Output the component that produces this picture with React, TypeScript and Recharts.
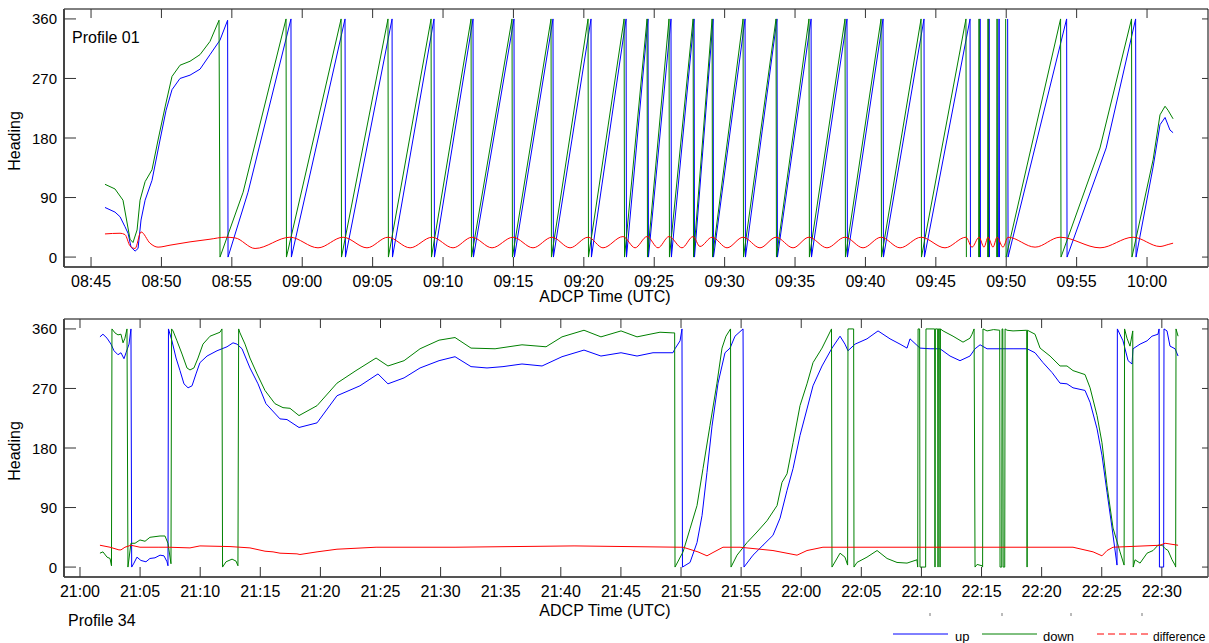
import { Line, LineChart, ReferenceArea, XAxis, YAxis } from "recharts";

type Pt = [number, number | null];

// Profile 01: time in minutes after 08:00, heading in degrees
const p01Up: Pt[] = [
  [45.99, 75], [46.7, 68], [47.06, 61], [47.41, 46], [47.63, 36], [47.84, 15], [48.13, 9], [48.34, 13],
  [48.55, 56], [48.84, 86], [49.33, 116], [49.9, 177], [50.33, 222], [50.75, 253], [51.32, 270], [52.03, 275],
  [52.74, 284], [53.45, 306], [54.16, 328], [54.7, 358], [54.73, 0], [56.15, 98], [59.2, 360], [59.23, 0],
  [63.04, 360], [63.07, 0], [66.38, 360], [66.41, 0], [69.36, 360], [69.39, 0], [72.13, 360], [72.16, 0],
  [75.04, 360], [75.07, 0], [77.81, 360], [77.84, 0], [80.51, 360], [80.54, 0], [83.0, 360], [83.03, 0],
  [84.56, 360], [84.59, 0], [86.19, 360], [86.22, 0], [87.83, 360], [87.86, 0], [89.18, 360], [89.21, 0],
  [91.45, 360], [91.48, 0], [93.72, 360], [93.75, 0], [96.14, 360], [96.17, 0], [98.69, 360], [98.72, 0],
  [101.25, 360], [101.28, 0], [104.16, 360], [104.19, 0], [107.43, 360], [107.46, 0], [107.8, null],
  [108.11, 0], [108.14, 360], [108.17, 0], [108.45, null], [108.75, 0], [108.78, 360], [108.81, 0],
  [109.1, null], [109.46, 0], [109.49, 360], [109.52, 0], [109.8, null], [110.1, 360], [110.13, 0],
  [114.29, 360], [114.32, 0], [117.1, 165], [119.19, 360], [119.22, 0], [120.43, 136],
  [120.92, 200], [121.28, 211], [121.63, 192], [121.85, 188],
];

const p01Down: Pt[] = [
  [45.99, 110], [46.7, 103], [47.27, 86], [47.77, 27], [47.98, 22], [48.27, 41], [48.48, 86], [48.84, 114],
  [49.33, 132], [49.76, 177], [50.26, 227], [50.75, 273], [51.32, 290], [52.03, 296], [52.74, 306],
  [53.45, 326], [54.09, 358], [54.16, 0], [55.8, 98], [58.85, 360], [58.88, 0], [62.76, 360], [62.79, 0],
  [66.09, 360], [66.12, 0], [69.15, 360], [69.18, 0], [71.99, 360], [72.02, 0], [74.9, 360], [74.93, 0],
  [77.67, 360], [77.7, 0], [80.3, 360], [80.33, 0], [82.86, 360], [82.89, 0], [84.49, 360], [84.52, 0],
  [86.05, 360], [86.08, 0], [87.76, 360], [87.79, 0], [89.11, 360], [89.14, 0], [91.31, 360], [91.34, 0],
  [93.65, 360], [93.68, 0], [95.99, 360], [96.02, 0], [98.55, 360], [98.58, 0], [101.11, 360], [101.14, 0],
  [103.95, 360], [103.98, 0], [107.14, 360], [107.17, 0], [107.6, null], [108.04, 0], [108.07, 360],
  [108.1, 0], [108.4, null], [108.68, 0], [108.71, 360], [108.74, 0], [109.0, null], [109.32, 0],
  [109.35, 360], [109.38, 0], [109.7, null], [109.96, 360], [109.99, 0], [113.86, 360], [113.89, 0],
  [116.66, 165], [118.9, 360], [118.93, 0], [120.43, 147], [120.92, 215], [121.28, 228],
  [121.49, 222], [121.85, 209],
];

const p01Diff: Pt[] = [
  [45.99, 35], [47.06, 36], [47.41, 34], [47.77, 17], [48.13, 13], [48.55, 38], [49.19, 21], [49.76, 15],
  [50.61, 18], [52.03, 23], [53.45, 27], [54.52, 30], [55.23, 29], [56.65, 13], [59.13, 30], [61.12, 14],
  [62.9, 30], [64.6, 14], [66.09, 30], [67.66, 14], [69.22, 30], [70.71, 14], [72.06, 30], [73.48, 14],
  [74.97, 30], [76.39, 14], [77.74, 30], [79.02, 14], [80.3, 30], [81.36, 14], [82.78, 31], [83.64, 14],
  [84.49, 31], [85.27, 14], [86.05, 31], [86.97, 14], [87.76, 31], [88.25, 16], [89.11, 30], [90.17, 14],
  [91.31, 30], [92.51, 14], [93.65, 30], [94.86, 14], [95.99, 30], [97.27, 14], [98.55, 30], [99.83, 14],
  [101.11, 30], [102.46, 14], [103.95, 30], [105.65, 14], [107.14, 30], [107.57, 15], [108.07, 30],
  [108.42, 15], [108.71, 30], [109.06, 15], [109.35, 30], [109.77, 15], [110.13, 30], [112.05, 15],
  [113.82, 30], [116.66, 14], [119.01, 30], [120.92, 16], [121.5, 19], [121.85, 21],
];

// Profile 34: time in minutes after 21:00
const p34Up: Pt[] = [
  [1.66, 348], [1.91, 352], [2.25, 346], [2.58, 337], [2.83, 327], [3.16, 321], [3.41, 324], [3.66, 315],
  [3.83, 324], [4.08, 337], [4.24, 360], [4.3, 0], [4.49, 6], [4.74, 15], [5.07, 10], [5.49, 8], [5.82, 13],
  [6.24, 14], [6.66, 18], [6.99, 17], [7.24, 8], [7.32, 2], [7.36, 360], [7.65, 342], [7.99, 316],
  [8.32, 297], [8.65, 277], [8.99, 271], [9.32, 274], [9.65, 292], [9.98, 309], [10.57, 319], [11.4, 327],
  [12.23, 333], [12.73, 339], [13.06, 337], [13.48, 330], [14.14, 301], [14.81, 277], [15.47, 247],
  [16.64, 224], [17.22, 223], [18.22, 211], [19.72, 218], [21.38, 259], [23.29, 274], [24.79, 292],
  [25.62, 277], [26.96, 286], [28.29, 301], [29.87, 312], [31.2, 318], [32.53, 303], [33.86, 301],
  [35.19, 303], [36.77, 307], [38.44, 304], [40.1, 318], [41.93, 328], [43.34, 319], [45.01, 324],
  [46.34, 319], [47.67, 324], [49.33, 324], [49.5, 330], [49.92, 342], [50.08, 360], [50.12, 0],
  [50.75, 7], [51.33, 37], [51.75, 78], [52.16, 143], [52.58, 213], [53.08, 278], [53.66, 324],
  [54.08, 331], [54.49, 349], [55.16, 360], [55.24, 0], [55.99, 18], [56.82, 33], [57.65, 48], [58.24, 74],
  [58.82, 116], [59.32, 149], [59.9, 199], [60.48, 239], [60.98, 274], [61.73, 304], [62.56, 331],
  [63.23, 349], [63.64, 337], [63.89, 327], [64.48, 337], [65.47, 345], [66.39, 357], [67.39, 345],
  [68.22, 337], [68.8, 331], [69.05, 345], [69.88, 331], [70.72, 330], [71.55, 330], [72.38, 319],
  [73.21, 312], [74.04, 319], [74.46, 330], [74.88, 336], [75.46, 330], [76.54, 330], [77.62, 330],
  [78.79, 330], [79.45, 324], [80.12, 309], [80.87, 294], [81.53, 278], [82.11, 277], [82.61, 271],
  [83.61, 267], [84.03, 249], [84.61, 209], [85.02, 169], [85.44, 113], [85.86, 59], [86.27, 3],
  [86.3, 360], [86.77, 342], [87.19, 312], [87.52, 307], [87.6, 330], [88.19, 337], [88.77, 342],
  [89.18, 349], [89.68, 352], [89.77, 360], [89.8, 0], [90.15, 0], [90.18, 360], [90.43, 357], [90.68, 334],
  [91.1, 330], [91.35, 319],
];

const p34Down: Pt[] = [
  [1.66, 21], [1.91, 23], [2.25, 15], [2.5, 13], [2.62, 2], [2.66, 360], [2.91, 354], [3.16, 351],
  [3.41, 352], [3.58, 339], [3.74, 346], [3.91, 360], [3.99, 0], [4.24, 36], [4.58, 36], [4.99, 41],
  [5.41, 39], [5.82, 45], [6.66, 47], [7.07, 47], [7.32, 36], [7.57, 5], [7.62, 360], [7.74, 357],
  [8.07, 342], [8.49, 322], [8.9, 301], [9.15, 298], [9.48, 301], [9.82, 316], [10.23, 337], [10.82, 349],
  [11.65, 355], [11.81, 360], [11.86, 0], [12.15, 8], [12.65, 12], [12.98, 9], [13.14, 2], [13.2, 360],
  [13.31, 354], [13.73, 337], [14.14, 316], [14.73, 292], [15.39, 267], [16.22, 247], [16.89, 241],
  [17.47, 240], [18.22, 229], [19.72, 244], [21.38, 278], [22.96, 297], [24.63, 316], [25.62, 304],
  [26.96, 312], [28.29, 330], [29.87, 343], [31.2, 347], [32.53, 331], [34.53, 330], [36.77, 336],
  [38.77, 333], [40.1, 348], [41.93, 358], [43.34, 348], [45.01, 357], [46.34, 348], [47.42, 352],
  [48.25, 355], [49.33, 354], [49.47, 354], [49.5, 0], [50.17, 23], [50.75, 58], [51.33, 93], [51.83, 149],
  [52.41, 214], [52.99, 278], [53.41, 331], [53.74, 349], [54.12, 360], [54.16, 0], [54.66, 18],
  [55.49, 37], [56.32, 53], [57.15, 70], [57.99, 93], [58.4, 128], [58.82, 141], [59.32, 188], [59.9, 244],
  [60.48, 277], [60.98, 309], [61.73, 331], [62.52, 360], [62.56, 0], [63.23, 21], [63.64, 15], [63.86, 3],
  [63.89, 360], [64.36, 360], [64.39, 0], [64.64, 7], [65.47, 15], [66.31, 25], [67.14, 13], [67.97, 7],
  [68.8, 6], [69.63, 11], [69.69, 0], [69.72, 360], [69.85, 360], [69.88, 0], [70.35, 0], [70.38, 360],
  [71.1, 360], [71.13, 0], [71.16, 360], [71.35, 360], [71.38, 0], [71.41, 360], [71.52, 360], [71.55, 0],
  [71.58, 360], [71.8, 357], [72.63, 349], [73.46, 340], [74.04, 346], [74.21, 352], [74.38, 360],
  [74.46, 0], [74.63, 4], [75.04, 2], [75.09, 0], [75.12, 360], [75.46, 357], [76.0, 359], [76.51, 358],
  [76.54, 0], [76.68, 0], [76.71, 360], [76.77, 360], [76.8, 0], [76.93, 0], [76.96, 360], [77.12, 358],
  [77.62, 357], [78.76, 358], [78.79, 0], [78.82, 358], [79.45, 352], [79.87, 331], [80.7, 319],
  [81.53, 304], [82.11, 304], [82.61, 297], [83.61, 291], [84.03, 271], [84.61, 229], [85.02, 188],
  [85.44, 123], [85.94, 59], [86.52, 23], [86.86, 3], [86.9, 360], [87.1, 346], [87.35, 334], [87.58, 357],
  [87.62, 0], [87.77, 11], [88.19, 6], [88.77, 21], [89.27, 25], [89.68, 33], [90.02, 33], [90.27, 28],
  [90.52, 25], [90.85, 11], [91.1, 3], [91.15, 0], [91.18, 360], [91.35, 349],
];

const p34Diff: Pt[] = [
  [1.66, 33], [2.5, 30], [3.24, 26], [3.41, 26], [3.74, 30], [4.24, 33], [4.99, 30], [6.57, 30], [7.4, 30],
  [9.15, 29], [9.98, 32], [12.48, 31], [14.14, 29], [15.39, 24], [16.06, 23], [16.64, 21], [18.05, 20],
  [18.3, 19], [19.72, 23], [21.38, 27], [24.63, 30], [31.2, 30], [41.1, 32], [49.92, 30], [50.17, 30],
  [51.41, 23], [52.16, 17], [52.66, 22], [53.49, 30], [54.91, 30], [57.65, 25], [59.65, 18], [60.48, 25],
  [61.81, 30], [73.21, 30], [82.61, 30], [84.28, 23], [85.02, 17], [85.44, 25], [85.94, 30], [89.85, 33],
  [90.27, 36], [91.35, 33],
];

const headingTicks = [0, 90, 180, 270, 360];
const p01TimeTicks = [45, 50, 55, 60, 65, 70, 75, 80, 85, 90, 95, 100, 105, 110, 115, 120];
const p34TimeTicks = [0, 5, 10, 15, 20, 25, 30, 35, 40, 45, 50, 55, 60, 65, 70, 75, 80, 85, 90];

const FONT = "'Liberation Sans', Arial, sans-serif";
const W = 1209;
const PLOT_TOP = 9;
const PLOT_H = 258;
const LEFT = 64;
const RIGHT = 1208;

const toRows = (pts: Pt[]) => pts.map(([t, h]) => ({ t, h }));

function clock(baseHour: number, m: number) {
  const total = baseHour * 60 + m;
  const hh = Math.floor(total / 60) % 24;
  const mm = Math.round(total % 60);
  return `${String(hh).padStart(2, "0")}:${String(mm).padStart(2, "0")}`;
}

interface PanelProps {
  up: Pt[];
  down: Pt[];
  diff: Pt[];
  xDomain: [number, number];
  xTicks: number[];
  baseHour: number;
  height: number;
  diffCurve: "monotone" | "linear";
}

function Panel({ up, down, diff, xDomain, xTicks, baseHour, height, diffCurve }: PanelProps) {
  const bottom = PLOT_TOP + PLOT_H;

  const xTick = (props: any) => {
    const { x, payload } = props;
    return (
      <g>
        <line x1={x} x2={x} y1={bottom} y2={bottom - 10} stroke="#333" />
        <line x1={x} x2={x} y1={PLOT_TOP} y2={PLOT_TOP + 9} stroke="#333" />
        <text x={x} y={bottom + 20} textAnchor="middle" fontSize={16} fontFamily={FONT} fill="#000">
          {clock(baseHour, payload.value)}
        </text>
      </g>
    );
  };

  const yTick = (props: any) => {
    const { y, payload } = props;
    return (
      <g>
        <line x1={LEFT} x2={LEFT + 12} y1={y} y2={y} stroke="#333" />
        <line x1={RIGHT} x2={RIGHT - 6} y1={y} y2={y} stroke="#333" />
        <text x={57} y={y + 5.5} textAnchor="end" fontSize={15} fontFamily={FONT} fill="#000">
          {payload.value}
        </text>
      </g>
    );
  };

  return (
    <LineChart width={W} height={height} margin={{ top: PLOT_TOP, right: W - RIGHT, bottom: 0, left: 0 }}>
      <ReferenceArea
        x1={xDomain[0]}
        x2={xDomain[1]}
        y1={-15}
        y2={375}
        fill="none"
        fillOpacity={0}
        stroke="#000"
        strokeWidth={1}
        ifOverflow="visible"
      />
      <XAxis
        type="number"
        dataKey="t"
        domain={xDomain}
        ticks={xTicks}
        interval={0}
        allowDataOverflow
        height={height - bottom}
        tickLine={false}
        axisLine={{ stroke: "#555", strokeWidth: 2 }}
        tick={xTick}
      />
      <YAxis
        type="number"
        domain={[-15, 375]}
        ticks={headingTicks}
        interval={0}
        allowDataOverflow
        width={LEFT}
        tickLine={false}
        axisLine={{ stroke: "#444", strokeWidth: 2 }}
        tick={yTick}
      />
      <Line data={toRows(up)} dataKey="h" type="linear" stroke="#0000ff" strokeWidth={1} dot={false} connectNulls={false} isAnimationActive={false} />
      <Line data={toRows(down)} dataKey="h" type="linear" stroke="#008000" strokeWidth={1} dot={false} connectNulls={false} isAnimationActive={false} />
      <Line data={toRows(diff)} dataKey="h" type={diffCurve} stroke="#ff0000" strokeWidth={1} dot={false} connectNulls={false} isAnimationActive={false} />
    </LineChart>
  );
}

const textStyle = { fontFamily: FONT, fill: "#000" };

export default function App() {
  return (
    <div style={{ position: "absolute", left: 0, top: 0, width: W, height: 643, background: "#fff" }}>
      <div style={{ position: "absolute", left: 0, top: 0 }}>
        <Panel up={p01Up} down={p01Down} diff={p01Diff} xDomain={[43.08, 124.33]} xTicks={p01TimeTicks} baseHour={8} height={310} diffCurve="monotone" />
      </div>
      <div style={{ position: "absolute", left: 0, top: 310 }}>
        <Panel up={p34Up} down={p34Down} diff={p34Diff} xDomain={[-1.33, 93.84]} xTicks={p34TimeTicks} baseHour={21} height={333} diffCurve="linear" />
      </div>
      <svg width={W} height={643} style={{ position: "absolute", left: 0, top: 0, pointerEvents: "none" }}>
        <text x={72} y={43} fontSize={16} {...textStyle}>Profile 01</text>
        <text transform="translate(20,141) rotate(-90)" textAnchor="middle" fontSize={16} {...textStyle}>Heading</text>
        <text x={605} y={302} textAnchor="middle" fontSize={16} {...textStyle}>ADCP Time (UTC)</text>

        <text transform="translate(20,451) rotate(-90)" textAnchor="middle" fontSize={16} {...textStyle}>Heading</text>
        <text x={605} y={616} textAnchor="middle" fontSize={16} {...textStyle}>ADCP Time (UTC)</text>
        <text x={68} y={626} fontSize={16} {...textStyle}>Profile 34</text>

        {[930, 1002, 1071, 1142].map((x) => (
          <line key={x} x1={x} x2={x} y1={613} y2={616} stroke="#777" />
        ))}

        <line x1={893} x2={948} y1={634} y2={634} stroke="#0000ff" />
        <text x={955} y={641} fontSize={13} {...textStyle}>up</text>
        <line x1={982} x2={1037} y1={634} y2={634} stroke="#008000" />
        <text x={1043} y={641} fontSize={13} {...textStyle}>down</text>
        <line x1={1097} x2={1148} y1={634} y2={634} stroke="#ff0000" strokeDasharray="7 4" />
        <text x={1153} y={641} fontSize={12} {...textStyle}>difference</text>
      </svg>
    </div>
  );
}
